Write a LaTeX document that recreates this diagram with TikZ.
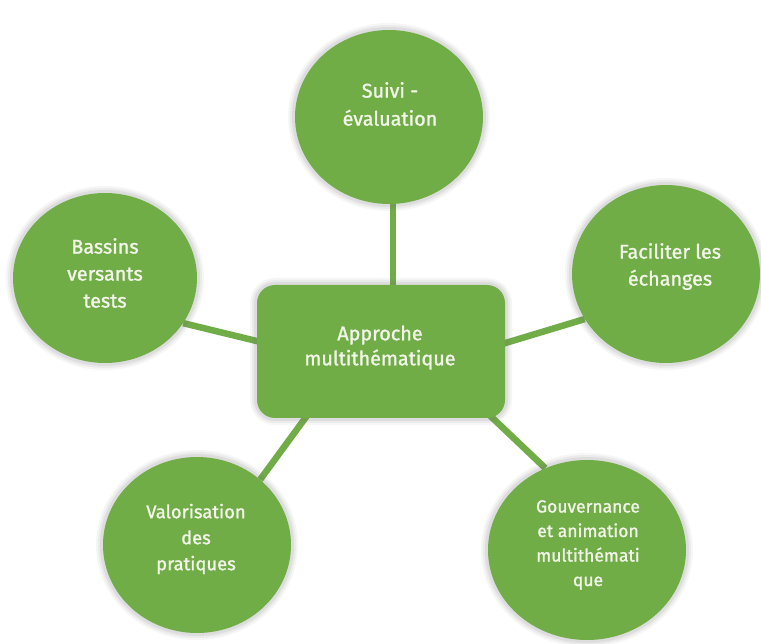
\documentclass[tikz,border=0pt]{standalone}
\usepackage{fontspec}
\setmainfont{Fira Sans}[RawFeature={embolden=1.3}]
\usetikzlibrary{shapes.geometric,backgrounds}
\definecolor{leaf}{HTML}{70AD47}
\definecolor{cream}{HTML}{F3F5EA}
\definecolor{glow}{HTML}{707070}
\begin{document}
\begin{tikzpicture}[x=1pt,y=-1pt,
  softshadow/.style={
    preaction={draw=glow, draw opacity=0.06, line width=14pt},
    preaction={draw=glow, draw opacity=0.08, line width=10pt},
    preaction={draw=glow, draw opacity=0.11, line width=6pt}},
  bubble/.style={ellipse, fill=leaf, draw=none, inner sep=0pt, softshadow},
  hub/.style={rectangle, rounded corners=18pt, fill=leaf, draw=none, minimum width=248pt, minimum height=133pt, softshadow},
  lbl/.style={text=cream, align=center, inner sep=0pt},
  spoke/.style={draw=leaf, line width=6.5pt}]
\useasboundingbox (0,0) rectangle (761,644);
\begin{scope}[on background layer]
  \fill[white] (0,0) rectangle (761,644);
\end{scope}
% shapes
\node[bubble, minimum width=188pt, minimum height=174pt] (top) at (389,117) {};
\node[bubble, minimum width=184pt, minimum height=170pt] (left) at (105,278) {};
\node[bubble, minimum width=188pt, minimum height=178pt] (right) at (666,274) {};
\node[bubble, minimum width=188pt, minimum height=176pt] (bl) at (197,545) {};
\node[bubble, minimum width=198pt, minimum height=180pt] (br) at (587,550) {};
\node[hub] (hub) at (381,351.5) {};
% labels
\node[lbl, font=\fontsize{19.8}{28}\selectfont] (ttop) at (390,104) {Suivi -\\évaluation};
\node[lbl, font=\fontsize{19.8}{27}\selectfont] (tleft) at (105,273) {Bassins\\versants\\tests};
\node[lbl, font=\fontsize{19.8}{27}\selectfont] (tright) at (670,266.5) {Faciliter les\\échanges};
\node[lbl, font=\fontsize{19.8}{25}\selectfont] (thub) at (380,347.5) {Approche\\multithématique};
\node[lbl, font=\fontsize{18.4}{26}\selectfont] (tbl) at (196,539) {Valorisation\\des\\pratiques};
\node[lbl, font=\fontsize{17.5}{24.5}\selectfont] (tbr) at (588,545) {Gouvernance\\et animation\\multithémati\\que};
% connectors
\begin{scope}[on background layer]
  \draw[spoke] ([xshift=4pt]top.south) -- ([xshift=4pt]top.south |- hub.center);
  \draw[spoke] (left.-30) -- ([xshift=8pt,yshift=8.5pt]hub.west);
  \draw[spoke] (right.-151) -- ([xshift=-8pt,yshift=6pt]hub.east);
  \draw[spoke] (bl.46) -- ([xshift=-70pt,yshift=8pt]hub.south);
  \draw[spoke] (br.117) -- ([xshift=-23pt,yshift=10pt]hub.south east);
\end{scope}
\end{tikzpicture}
\end{document}
